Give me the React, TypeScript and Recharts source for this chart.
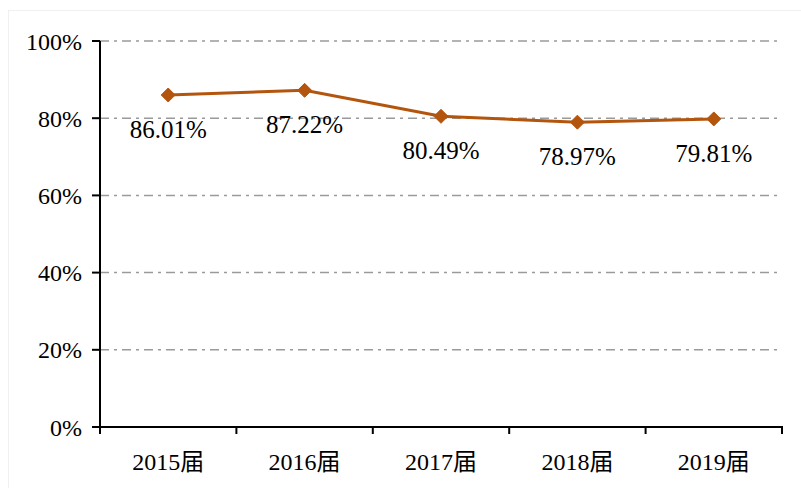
import { LineChart, Line, XAxis, YAxis, CartesianGrid, LabelList } from 'recharts';

const years = ['2015届', '2016届', '2017届', '2018届', '2019届'];
const rates = [86.01, 87.22, 80.49, 78.97, 79.81];
const yTicks = [0, 20, 40, 60, 80, 100];

const data = years.map((year, i) => ({ pos: i + 0.5, year, rate: rates[i] }));
const xTicks = [0, 0.5, 1, 1.5, 2, 2.5, 3, 3.5, 4, 4.5, 5];

const serif = '"Liberation Serif", "Noto Sans CJK SC", serif';
const lineColor = '#B4550E';

const XTick = (props: any) => {
  const { x, y, payload } = props;
  const v = payload.value;
  if (Number.isInteger(v)) {
    return <line x1={x} y1={y - 9} x2={x} y2={y - 1} stroke="#000" strokeWidth={2} />;
  }
  const idx = Math.floor(v);
  return (
    <text x={x} y={y + 35} textAnchor="middle" fontFamily={serif} fontSize={24} fill="#000">
      {years[idx]}
    </text>
  );
};

const Diamond = (props: any) => {
  const { cx, cy } = props;
  const s = 7;
  return (
    <path
      d={`M${cx},${cy - s} L${cx + s},${cy} L${cx},${cy + s} L${cx - s},${cy} Z`}
      fill={lineColor}
      stroke={lineColor}
    />
  );
};

export default function App() {
  return (
    <div style={{ position: 'absolute', left: 0, top: 0, width: 801, height: 488, background: '#fff' }}>
      <div
        style={{
          position: 'absolute',
          left: 8,
          top: 10,
          width: 800,
          height: 480,
          borderLeft: '1px solid #f0f0f0',
          borderTop: '1px solid #f0f0f0',
        }}
      />
      <LineChart
        width={801}
        height={488}
        data={data}
        margin={{ top: 41, right: 19, left: 0, bottom: 21 }}
        style={{ position: 'absolute', left: 0, top: 0 }}
      >
        <CartesianGrid
          vertical={false}
          stroke="#9a9a9a"
          strokeWidth={1.5}
          strokeDasharray="9 5 3 5"
        />
        <XAxis
          dataKey="pos"
          type="number"
          domain={[0, 5]}
          ticks={xTicks}
          interval={0}
          tickLine={false}
          axisLine={{ stroke: '#000', strokeWidth: 2 }}
          tick={<XTick />}
          height={40}
        />
        <YAxis
          domain={[0, 100]}
          ticks={yTicks}
          interval={0}
          tickFormatter={(v: number) => `${v}%`}
          axisLine={{ stroke: '#000', strokeWidth: 2 }}
          tickLine={{ stroke: '#000', strokeWidth: 2 }}
          tickSize={8}
          tickMargin={10}
          tick={{ fontFamily: serif, fontSize: 24, fill: '#000' }}
          width={100}
        />
        <Line
          dataKey="rate"
          stroke={lineColor}
          strokeWidth={3}
          dot={<Diamond />}
          activeDot={false}
          isAnimationActive={false}
        >
          <LabelList
            dataKey="rate"
            position="bottom"
            offset={25}
            formatter={(v: any) => `${Number(v).toFixed(2)}%`}
            style={{ fontFamily: serif, fontSize: 25, fill: '#000' }}
          />
        </Line>
      </LineChart>
    </div>
  );
}
